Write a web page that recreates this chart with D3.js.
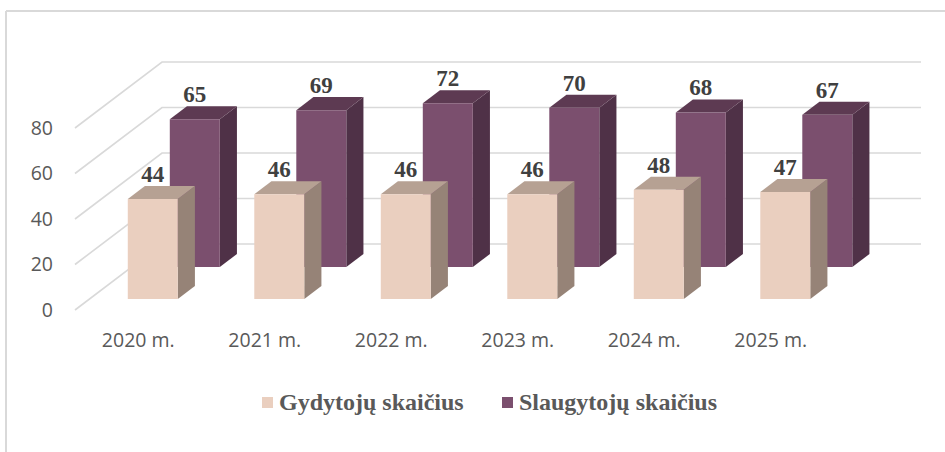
<!DOCTYPE html>
<html><head><meta charset="utf-8">
<script src="https://cdn.jsdelivr.net/npm/d3@7"></script>
<style>body{margin:0;background:#fff}svg{display:block}</style>
</head><body><svg id="c" width="945" height="452"></svg>
<script>
const categories = ["2020 m.","2021 m.","2022 m.","2023 m.","2024 m.","2025 m."];
const gydytojai = [44,46,46,46,48,47];
const slaugytojai = [65,69,72,70,68,67];
const seriesNames = ["Gydytojų skaičius","Slaugytojų skaičius"];
const yTicks = [0,20,40,60,80];

const svg = d3.select("#c");
// outer chart border (only top and left visible)
svg.append("line").attr("x1",6).attr("x2",945).attr("y1",11).attr("y2",11).attr("stroke","#d9d9d9").attr("stroke-width",2);
svg.append("line").attr("x1",6).attr("x2",6).attr("y1",11).attr("y2",452).attr("stroke","#d9d9d9").attr("stroke-width",2);

const x = d3.scaleBand().domain(categories).range([75,834]);
const y = d3.scaleLinear().domain([0,80]).range([310,128]);
const DX = 87, DY = -66; // full depth vector
const P = (px, v, z) => [px + DX*z, y(v) + DY*z];

const g = svg.append("g");
// left wall diagonals + back wall horizontals
yTicks.forEach(t=>{
  const a = P(x.range()[0], t, 0), b = P(x.range()[0], t, 1), c = P(x.range()[1], t, 1);
  g.append("path").attr("d", d3.line()([a,b,c])).attr("fill","none").attr("stroke","#d9d9d9").attr("stroke-width",1.6);
});
// tick labels
g.selectAll(".yt").data(yTicks).join("text")
  .attr("x",53).attr("y",d=>y(d)).attr("dy","0.35em").attr("text-anchor","end")
  .attr("font-family","'Open Sans', sans-serif").attr("font-size",19.5).attr("fill","#595959").text(d=>d);
// category labels
g.selectAll(".xt").data(categories).join("text")
  .attr("x",d=>x(d)+x.bandwidth()/2).attr("y",340).attr("dy","0.35em").attr("text-anchor","middle")
  .attr("font-family","'Open Sans', sans-serif").attr("font-size",19.5).attr("fill","#595959").text(d=>d);

const barW = 50;
const series = [
  {name:seriesNames[1], vals:slaugytojai, z0:0.65, z1:0.847, front:"#7b4f6e", top:"#5d3a52", side:"#4f3147"},
  {name:seriesNames[0], vals:gydytojai, z0:0.167, z1:0.364, front:"#eacfbf", top:"#b6a193", side:"#968377"}
];
const line = d3.line();
series.forEach(s=>{
  categories.forEach((c,i)=>{
    const v = s.vals[i];
    const xl = x(c) + x.bandwidth()/2 - barW/2, xr = xl + barW;
    const fbl = P(xl,0,s.z0), fbr = P(xr,0,s.z0), ftr = P(xr,v,s.z0), ftl = P(xl,v,s.z0);
    const btl = P(xl,v,s.z1), btr = P(xr,v,s.z1), bbr = P(xr,0,s.z1);
    g.append("path").attr("d", line([fbr,bbr,btr,ftr])+"Z").attr("fill",s.side);
    g.append("path").attr("d", line([ftl,ftr,btr,btl])+"Z").attr("fill",s.top);
    g.append("path").attr("d", line([fbl,fbr,ftr,ftl])+"Z").attr("fill",s.front);
    g.append("text").attr("x",(fbl[0]+fbr[0])/2).attr("y",btl[1]-4).attr("text-anchor","middle")
      .attr("font-family","'Liberation Serif', 'Times New Roman', serif").attr("font-weight","bold")
      .attr("font-size",23).attr("fill","#404040").text(v);
  });
});

// legend
const leg = [{name:seriesNames[0], color:"#eacfbf", x:262},{name:seriesNames[1], color:"#7b4f6e", x:502}];
leg.forEach(l=>{
  svg.append("rect").attr("x",l.x).attr("y",397).attr("width",11).attr("height",11).attr("fill",l.color);
  svg.append("text").attr("x",l.x+17).attr("y",410).attr("font-family","'Liberation Serif', 'Times New Roman', serif")
    .attr("font-weight","bold").attr("font-size",24).attr("fill","#595959").text(l.name);
});
</script></body></html>
